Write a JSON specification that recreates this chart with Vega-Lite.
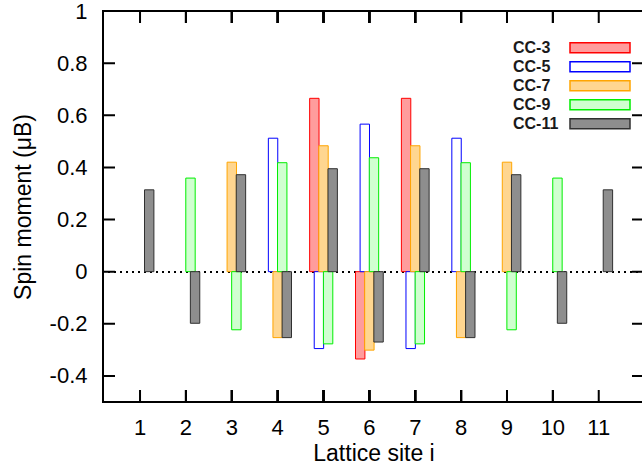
{
  "$schema": "https://vega.github.io/schema/vega-lite/v6.json",
  "width": 541,
  "height": 391,
  "autosize": {"type": "none"},
  "padding": {"left": 103, "top": 11, "right": 0, "bottom": 70},
  "config": {"view": {"stroke": "black", "strokeWidth": 2}, "font": "Liberation Sans"},
  "datasets": {
    "yticks": [{"tick": -0.4}, {"tick": -0.2}, {"tick": 0}, {"tick": 0.2}, {"tick": 0.4}, {"tick": 0.6}, {"tick": 0.8}, {"tick": 1}]
  },
  "data": {"values": [
    {"series": "CC-3", "site": 5, "value": 0.665},
    {"series": "CC-3", "site": 6, "value": -0.335},
    {"series": "CC-3", "site": 7, "value": 0.665},
    {"series": "CC-5", "site": 4, "value": 0.512},
    {"series": "CC-5", "site": 5, "value": -0.295},
    {"series": "CC-5", "site": 6, "value": 0.566},
    {"series": "CC-5", "site": 7, "value": -0.295},
    {"series": "CC-5", "site": 8, "value": 0.512},
    {"series": "CC-7", "site": 3, "value": 0.42},
    {"series": "CC-7", "site": 4, "value": -0.253},
    {"series": "CC-7", "site": 5, "value": 0.483},
    {"series": "CC-7", "site": 6, "value": -0.301},
    {"series": "CC-7", "site": 7, "value": 0.483},
    {"series": "CC-7", "site": 8, "value": -0.253},
    {"series": "CC-7", "site": 9, "value": 0.42},
    {"series": "CC-9", "site": 2, "value": 0.359},
    {"series": "CC-9", "site": 3, "value": -0.223},
    {"series": "CC-9", "site": 4, "value": 0.418},
    {"series": "CC-9", "site": 5, "value": -0.277},
    {"series": "CC-9", "site": 6, "value": 0.437},
    {"series": "CC-9", "site": 7, "value": -0.277},
    {"series": "CC-9", "site": 8, "value": 0.418},
    {"series": "CC-9", "site": 9, "value": -0.223},
    {"series": "CC-9", "site": 10, "value": 0.359},
    {"series": "CC-11", "site": 1, "value": 0.314},
    {"series": "CC-11", "site": 2, "value": -0.198},
    {"series": "CC-11", "site": 3, "value": 0.372},
    {"series": "CC-11", "site": 4, "value": -0.253},
    {"series": "CC-11", "site": 5, "value": 0.395},
    {"series": "CC-11", "site": 6, "value": -0.27},
    {"series": "CC-11", "site": 7, "value": 0.395},
    {"series": "CC-11", "site": 8, "value": -0.253},
    {"series": "CC-11", "site": 9, "value": 0.372},
    {"series": "CC-11", "site": 10, "value": -0.198},
    {"series": "CC-11", "site": 11, "value": 0.314}
  ]},
  "layer": [
    {
      "mark": {"type": "rule", "strokeDash": [2, 4], "color": "black", "strokeWidth": 1.5},
      "encoding": {"y": {"datum": 0, "type": "quantitative"}}
    },
    {
      "mark": {"type": "bar", "width": 9.4, "strokeWidth": 1},
      "encoding": {
        "x": {
          "field": "site", "type": "ordinal",
          "scale": {"type": "band", "paddingInner": 0, "paddingOuter": 0.397, "align": 0.387},
          "axis": {
            "orient": "bottom",
            "title": "Lattice site i", "titleFont": "Liberation Sans", "titleFontSize": 23, "titleFontWeight": "normal", "titleColor": "black", "titlePadding": 4,
            "labelAngle": 0, "labelFont": "Liberation Sans", "labelFontSize": 22, "labelColor": "black", "labelPadding": 15,
            "bandPosition": 0.5, "ticks": false, "tickSize": 0, "domain": false, "grid": false
          }
        },
        "xOffset": {
          "field": "series", "type": "nominal",
          "scale": {"domain": ["CC-3", "CC-5", "CC-7", "CC-9", "CC-11"], "range": [11.47, 34.4], "paddingInner": 0, "paddingOuter": 0}
        },
        "y": {
          "field": "value", "type": "quantitative",
          "scale": {"domain": [-0.5, 1], "nice": false},
          "axis": {
            "title": "Spin moment (μB)", "titleFont": "Liberation Sans", "titleFontSize": 23, "titleFontWeight": "normal", "titleColor": "black", "titlePadding": 14,
            "values": [-0.4, -0.2, 0, 0.2, 0.4, 0.6, 0.8, 1],
            "labelExpr": "replace(format(datum.value, '~g'), '−', '-')",
            "labelFont": "Liberation Sans", "labelFontSize": 22, "labelColor": "black", "labelPadding": 16,
            "ticks": false, "tickSize": 0, "domain": false, "grid": false
          }
        },
        "fill": {
          "field": "series", "type": "nominal",
          "scale": {"domain": ["CC-3", "CC-5", "CC-7", "CC-9", "CC-11"], "range": ["#ff9c9c", "#ffffff", "#ffd690", "#d0ffd0", "#8e8e8e"]},
          "legend": {
            "title": null, "orient": "none", "legendX": 486.5, "legendY": 26.3, "padding": 0,
            "symbolType": "M-3.158,-0.526H3.158V0.526H-3.158Z", "symbolSize": 361, "symbolStrokeWidth": 1.5, "symbolOffset": 0,
            "labelOffset": -97.5, "labelFont": "Liberation Sans", "labelFontSize": 16, "labelFontWeight": "bold", "labelColor": "#1a1a1a",
            "rowPadding": 0
          }
        },
        "stroke": {
          "field": "series", "type": "nominal",
          "scale": {"domain": ["CC-3", "CC-5", "CC-7", "CC-9", "CC-11"], "range": ["#ff0000", "#0000ff", "#ffa500", "#00ee00", "#303030"]},
          "legend": {
            "title": null, "orient": "none", "legendX": 486.5, "legendY": 26.3, "padding": 0,
            "symbolType": "M-3.158,-0.526H3.158V0.526H-3.158Z", "symbolSize": 361, "symbolStrokeWidth": 1.5, "symbolOffset": 0,
            "labelOffset": -97.5, "labelFont": "Liberation Sans", "labelFontSize": 16, "labelFontWeight": "bold", "labelColor": "#1a1a1a",
            "rowPadding": 0
          }
        }
      }
    },
    {
      "mark": {"type": "rule", "strokeDash": [12, 367, 12, 30], "color": "black", "strokeWidth": 2},
      "encoding": {
        "x": {
          "field": "site", "type": "ordinal", "bandPosition": 0.5,
          "scale": {"type": "band", "paddingInner": 0, "paddingOuter": 0.397, "align": 0.387}
        },
        "y": {"datum": -0.5, "type": "quantitative"},
        "y2": {"datum": 1}
      }
    },
    {
      "data": {"name": "yticks"},
      "mark": {"type": "rule", "strokeDash": [12, 517, 12, 30], "color": "black", "strokeWidth": 2},
      "encoding": {"y": {"field": "tick", "type": "quantitative"}}
    }
  ]
}
